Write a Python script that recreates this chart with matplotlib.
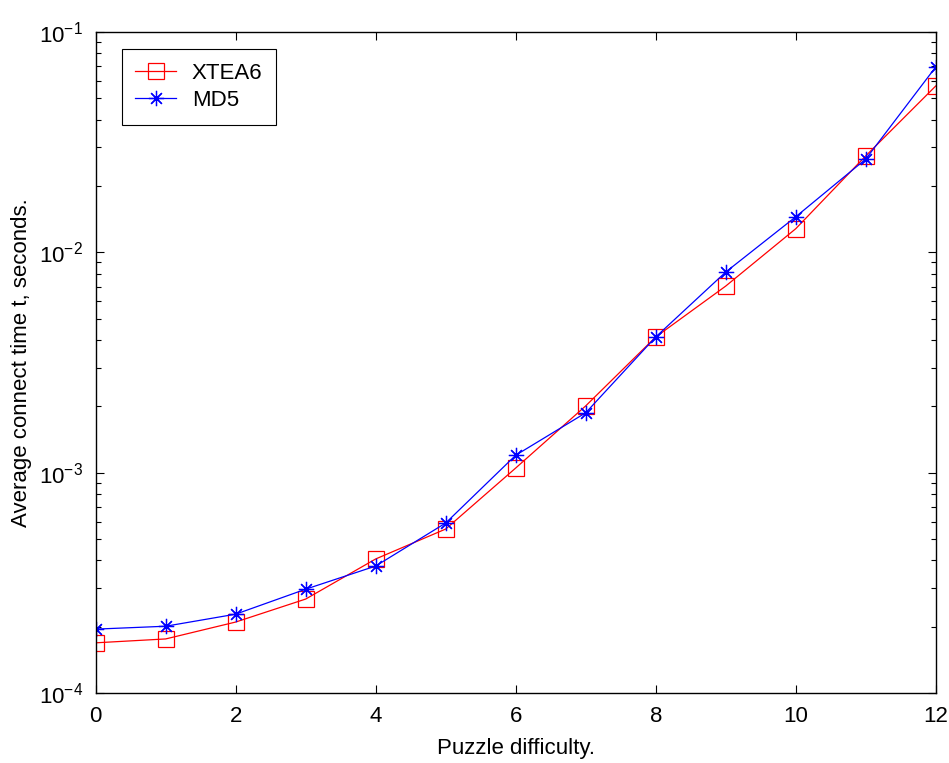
import numpy as np
import matplotlib
matplotlib.use("Agg")
import matplotlib.pyplot as plt
from matplotlib.ticker import LogLocator, NullLocator

plt.rcParams['font.family'] = ['Liberation Sans', 'DejaVu Sans']
plt.rcParams['mathtext.default'] = 'regular'
plt.rcParams['mathtext.fontset'] = 'custom'
plt.rcParams['mathtext.rm'] = 'Liberation Sans'

# data (log axis)
difficulty = [0, 1, 2, 3, 4, 5, 6, 7, 8, 9, 10, 11, 12]
xtea6_time = [1.69e-4, 1.76e-4, 2.10e-4, 2.67e-4, 4.06e-4, 5.55e-4, 1.05e-3,
              2.01e-3, 4.13e-3, 7.03e-3, 1.28e-2, 2.74e-2, 5.69e-2]
md5_time = [1.95e-4, 2.01e-4, 2.28e-4, 2.96e-4, 3.77e-4, 5.91e-4, 1.20e-3,
            1.87e-3, 4.13e-3, 8.14e-3, 1.45e-2, 2.65e-2, 6.94e-2]
x_ticks = [0, 2, 4, 6, 8, 10, 12]

fig = plt.figure(figsize=(9.49, 7.63), dpi=100)
ax = fig.add_axes([0.1008, 0.0917, 0.986 - 0.1008, 0.958 - 0.0917])

ax.plot(difficulty, xtea6_time, color='#ff0000', lw=0.9, marker='s', ms=11.5,
        mfc='none', mec='#ff0000', mew=0.9, label='XTEA6')
ax.plot(difficulty, md5_time, color='#0000ff', lw=0.9, marker=(8, 2, 0), ms=11,
        mec='#0000ff', mew=0.9, label='MD5')

ax.set_yscale('log')
ax.set_xlim(0, 12)
ax.set_ylim(1e-4, 1e-1)
ax.set_xticks(x_ticks)
ax.xaxis.set_minor_locator(NullLocator())
ax.yaxis.set_major_locator(LogLocator(base=10, numticks=10))
ax.yaxis.set_minor_locator(LogLocator(base=10, subs=np.arange(2, 10), numticks=20))

ax.tick_params(which='both', direction='in', top=True, right=True, labelsize=16, width=0.8)
ax.tick_params(which='major', length=6, pad=9)
ax.tick_params(which='minor', length=3.6)
for s in ax.spines.values():
    s.set_linewidth(1.0)

ax.set_xlabel('Puzzle difficulty.', fontsize=16, labelpad=8)
ax.set_ylabel('Average connect time t, seconds.', fontsize=16, labelpad=5)

leg = ax.legend(loc='upper left', bbox_to_anchor=(0.031, 0.974), borderaxespad=0,
                fontsize=16, fancybox=False, framealpha=1, edgecolor='black',
                handlelength=1.85, borderpad=0.6, labelspacing=0.3, handletextpad=0.7)
leg.get_frame().set_linewidth(0.8)

fig.savefig('out.png', dpi=100)
